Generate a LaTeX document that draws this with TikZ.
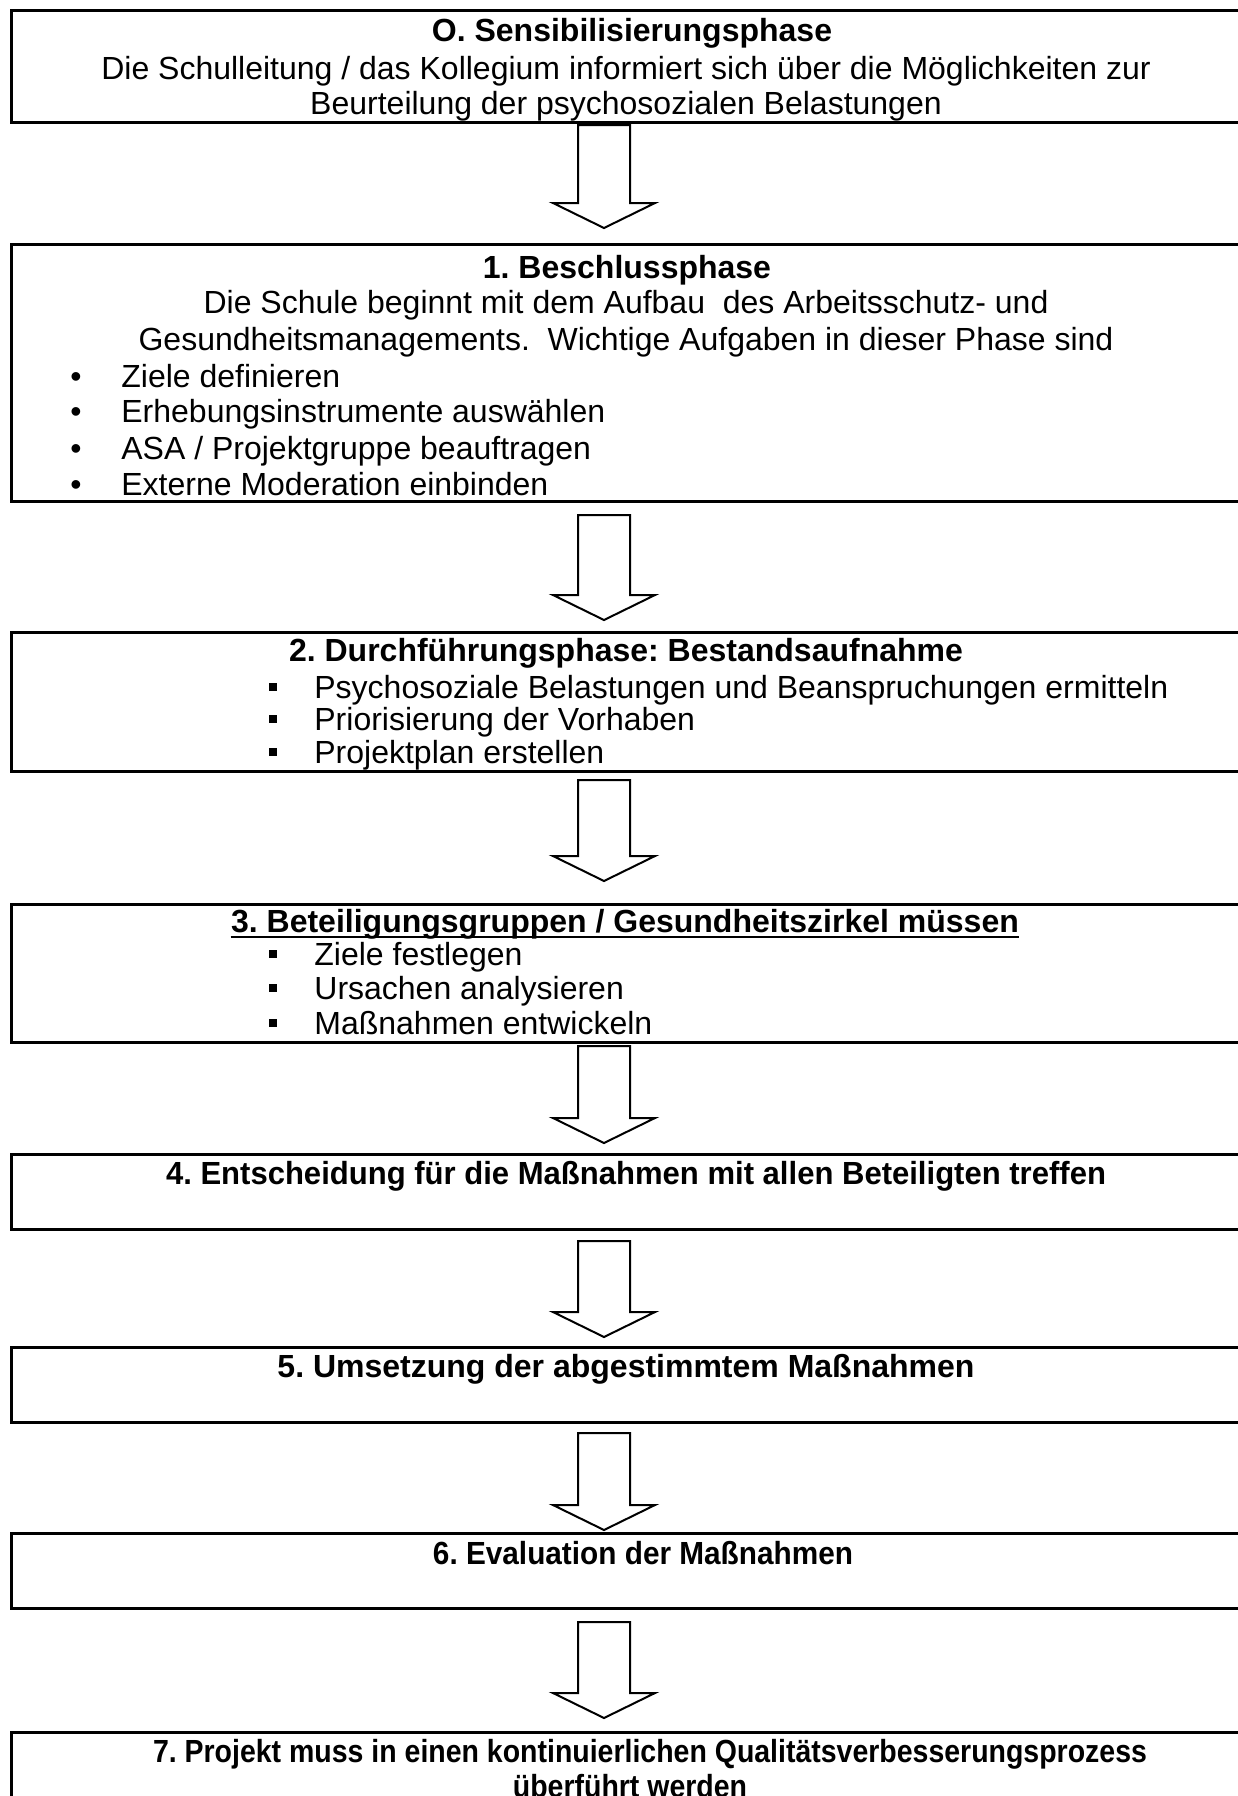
\documentclass[tikz,border=0pt]{standalone}
\usepackage{fontspec}
\setmainfont{Liberation Sans}
\newcommand\blockarrow[3]{% name, top y, tip y
  \coordinate (#1top) at (604,#2);
  \coordinate (#1tip) at (604,#3);
  \draw[arrowshape] (578,#2) -- (578,{#3-25}) -- (553,{#3-25}) -- (#1tip) -- (655,{#3-25}) -- (630,{#3-25}) -- (630,#2) -- cycle;}
\newcommand\sqbullet{\rule[0.22em]{3.6pt}{4pt}}
\frenchspacing
\begin{document}
\frenchspacing
\begin{tikzpicture}[x=0.5pt,y=-0.5pt,
  phasebox/.style={draw, line width=1.5pt, minimum width=620pt, anchor=north west, inner sep=0, rectangle},
  arrowshape/.style={draw, line width=1pt, fill=white, line join=miter},
  tline/.style={inner sep=0, anchor=base, font=\fontsize{16}{18}\selectfont},
  ttitle/.style={inner sep=0, anchor=base, font=\fontsize{16}{18}\selectfont\bfseries},
  titem/.style={inner sep=0, anchor=base west, font=\fontsize{16}{18}\selectfont},
]
\useasboundingbox (0,0) rectangle (1238,1796);
\clip (0,0) rectangle (1238,1796);
\fill[white] (0,0) rectangle (1238,1796);

% boxes
\node[phasebox, minimum height=56pt] (b0) at (10,9) {};
\node[phasebox, minimum height=128.5pt] (b1) at (10,243) {};
\node[phasebox, minimum height=69.5pt] (b2) at (10,631) {};
\node[phasebox, minimum height=69pt] (b3) at (10,903) {};
\node[phasebox, minimum height=37.5pt] (b4) at (10,1153) {};
\node[phasebox, minimum height=37.5pt] (b5) at (10,1346) {};
\node[phasebox, minimum height=37.5pt] (b6) at (10,1532) {};
\node[phasebox, minimum height=60pt] (b7) at (10,1731) {};

% arrows
\blockarrow{a1}{125}{228}
\blockarrow{a2}{515}{620}
\blockarrow{a3}{780}{881}
\blockarrow{a4}{1046}{1143}
\blockarrow{a5}{1241}{1337}
\blockarrow{a6}{1433}{1530}
\blockarrow{a7}{1622}{1718}

% box 0
\node[ttitle] (t0) at (632,41) {O. Sensibilisierungsphase};
\node[tline] (t0a) at (626,79) {Die Schulleitung / das Kollegium informiert sich über die Möglichkeiten zur};
\node[tline] (t0b) at (626,114) {Beurteilung der psychosozialen Belastungen};

% box 1
\node[ttitle] (t1) at (627,278) {1. Beschlussphase};
\node[tline] (t1a) at (626,313) {Die Schule beginnt mit dem Aufbau\ \ des Arbeitsschutz- und};
\node[tline] (t1b) at (626,350) {Gesundheitsmanagements.\ \ Wichtige Aufgaben in dieser Phase sind};
\node[titem] (t1i1) at (70,387) {\makebox[25.5pt][l]{•}Ziele definieren};
\node[titem] (t1i2) at (70,422) {\makebox[25.5pt][l]{•}Erhebungsinstrumente auswählen};
\node[titem] (t1i3) at (70,459) {\makebox[25.5pt][l]{•}ASA / Projektgruppe beauftragen};
\node[titem] (t1i4) at (70,495) {\makebox[25.5pt][l]{•}Externe Moderation einbinden};

% box 2
\node[ttitle] (t2) at (626,661) {2. Durchführungsphase: Bestandsaufnahme};
\node[titem] (t2i1) at (269,698) {\makebox[22.5pt][l]{\sqbullet}Psychosoziale Belastungen und Beanspruchungen ermitteln};
\node[titem] (t2i2) at (269,730) {\makebox[22.5pt][l]{\sqbullet}Priorisierung der Vorhaben};
\node[titem] (t2i3) at (269,763) {\makebox[22.5pt][l]{\sqbullet}Projektplan erstellen};

% box 3
\node[ttitle] (t3) at (625,932) {3. Beteiligungsgruppen / Gesundheitszirkel müssen};
\draw[line width=1.3pt] ([yshift=-2.4pt]t3.base west) -- ([yshift=-2.4pt]t3.base east);
\node[titem] (t3i1) at (269,965) {\makebox[22.5pt][l]{\sqbullet}Ziele festlegen};
\node[titem] (t3i2) at (269,999) {\makebox[22.5pt][l]{\sqbullet}Ursachen analysieren};
\node[titem] (t3i3) at (269,1034) {\makebox[22.5pt][l]{\sqbullet}Maßnahmen entwickeln};

% boxes 4-7
\node[ttitle] (t4) at (636,1184) {\scalebox{0.97}[1]{4. Entscheidung für die Maßnahmen mit allen Beteiligten treffen}};
\node[ttitle] (t5) at (626,1377) {5. Umsetzung der abgestimmtem Maßnahmen};
\node[ttitle] (t6) at (643,1564) {\scalebox{0.93}[1]{6. Evaluation der Maßnahmen}};
\node[ttitle] (t7) at (650,1762) {\scalebox{0.89}[1]{7. Projekt muss in einen kontinuierlichen Qualitätsverbesserungsprozess}};
\node[ttitle] (t7b) at (630,1797) {\scalebox{0.89}[1]{überführt werden}};
\end{tikzpicture}
\end{document}
